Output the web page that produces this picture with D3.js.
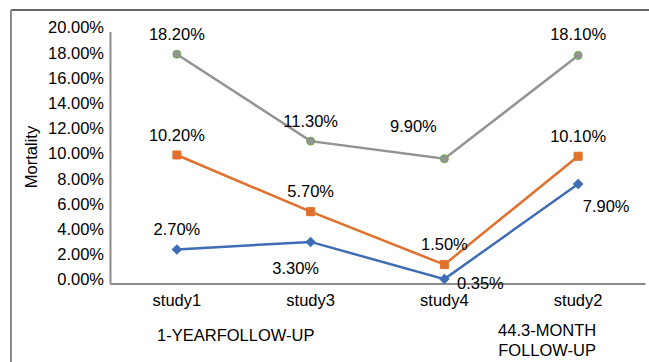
<!DOCTYPE html>
<html>
<head>
<meta charset="utf-8">
<script src="https://cdn.jsdelivr.net/npm/d3@7"></script>
<style>
  html, body { margin: 0; padding: 0; background: #fff; }
  svg { display: block; font-family: "Liberation Sans", Arial, sans-serif; }
</style>
</head>
<body>
<svg id="chart" width="649" height="362"></svg>
<script>
// Mortality by study (percent)
const categories = ["study1", "study3", "study4", "study2"];
const seriesLow = [2.7, 3.3, 0.35, 7.9];
const seriesMid = [10.2, 5.7, 1.5, 10.1];
const seriesHigh = [18.2, 11.3, 9.9, 18.1];
const yTicks = [0, 2, 4, 6, 8, 10, 12, 14, 16, 18, 20];
const groupLabels = [
  { text: ["1-YEARFOLLOW-UP"], from: "study1", to: "study3" },
  { text: ["44.3-MONTH", "FOLLOW-UP"], from: "study2", to: "study2" }
];

const FS = 16.5;
const svg = d3.select("#chart");
const margin = { left: 110, right: 4, top: 31.5, bottom: 78.5 };
const W = 649, H = 362;

const x = d3.scaleBand().domain(categories).range([margin.left, W - margin.right]);
const y = d3.scaleLinear().domain([0, 20]).range([H - margin.bottom, margin.top]);
const cx = c => x(c) + x.bandwidth() / 2;

// outer frame (top and left edges)
svg.append("line").attr("x1", 11).attr("x2", W).attr("y1", 10).attr("y2", 10)
  .attr("stroke", "#333").attr("stroke-width", 1.5);
svg.append("line").attr("x1", 11).attr("x2", 11).attr("y1", 10).attr("y2", H)
  .attr("stroke", "#8c8c8c").attr("stroke-width", 2);

// y axis
const yAxis = d3.axisLeft(y).tickValues(yTicks).tickSize(0).tickPadding(6)
  .tickFormat(d => d.toFixed(2) + "%");
const gy = svg.append("g").attr("transform", `translate(${margin.left},0)`).call(yAxis);
gy.select(".domain").attr("stroke", "#8c8c8c").attr("stroke-width", 2);
gy.selectAll("text").attr("font-size", FS).attr("fill", "#000").attr("dy", "0.2em")
  .attr("font-family", "Liberation Sans, Arial, sans-serif")
  .attr("transform", "translate(0,-2)");

// x axis
const xAxis = d3.axisBottom(x).tickSize(0).tickPadding(11);
const gx = svg.append("g").attr("transform", `translate(0,${y(0)})`).call(xAxis);
gx.select(".domain").attr("stroke", "#8c8c8c").attr("stroke-width", 2);
gx.selectAll("text").attr("font-size", FS).attr("fill", "#000")
  .attr("font-family", "Liberation Sans, Arial, sans-serif");

// y axis title
svg.append("text").attr("transform", "translate(37,157) rotate(-90)")
  .attr("text-anchor", "middle").attr("font-size", FS).attr("fill", "#000")
  .text("Mortality");

// group labels under categories
groupLabels.forEach(g => {
  const gxPos = (cx(g.from) + cx(g.to)) / 2 + (g.text.length > 1 ? -31 : -8);
  const t = svg.append("text").attr("text-anchor", "middle").attr("font-size", FS).attr("fill", "#000");
  g.text.forEach((line, i) => {
    t.append("tspan").attr("x", gxPos).attr("y", (g.text.length > 1 ? 336 : 341) + i * 20).text(line);
  });
});

const line = d3.line().x((d, i) => cx(categories[i])).y(d => y(d));

const series = [
  { values: seriesHigh, color: "#939393", marker: "circle", markerStroke: "#6aa84f",
    labelOffsets: [[0, -20], [0, -20], [-31, -33], [0, -21]] },
  { values: seriesMid, color: "#e0712c", marker: "square", markerStroke: "#e0712c",
    labelOffsets: [[0, -20], [0, -20], [0, -20], [0, -20]] },
  { values: seriesLow, color: "#3e6db5", marker: "diamond", markerStroke: "#3e6db5",
    labelOffsets: [[0, -20], [-15, 26], [36, 4], [28, 22]] }
];

series.forEach(s => {
  svg.append("path").datum(s.values).attr("d", line)
    .attr("fill", "none").attr("stroke", s.color).attr("stroke-width", 2.5);

  // diamonds are squares turned 45 degrees so they stay equal in width and height
  const sym = s.marker === "circle" ? d3.symbolCircle : d3.symbolSquare;
  const size = s.marker === "square" ? 64 : s.marker === "diamond" ? 42 : 50;
  const rot = s.marker === "diamond" ? " rotate(45)" : "";
  svg.selectAll(null).data(s.values).enter().append("path")
    .attr("d", d3.symbol().type(sym).size(size))
    .attr("transform", (d, i) => `translate(${cx(categories[i])},${y(d)})${rot}`)
    .attr("fill", s.color).attr("stroke", s.markerStroke).attr("stroke-width", 1);

  svg.selectAll(null).data(s.values).enter().append("text")
    .attr("x", (d, i) => cx(categories[i]) + s.labelOffsets[i][0])
    .attr("y", (d, i) => y(d) + s.labelOffsets[i][1])
    .attr("dy", "0.35em").attr("text-anchor", "middle")
    .attr("font-size", FS).attr("fill", "#000")
    .text(d => d.toFixed(2) + "%");
});
</script>
</body>
</html>
